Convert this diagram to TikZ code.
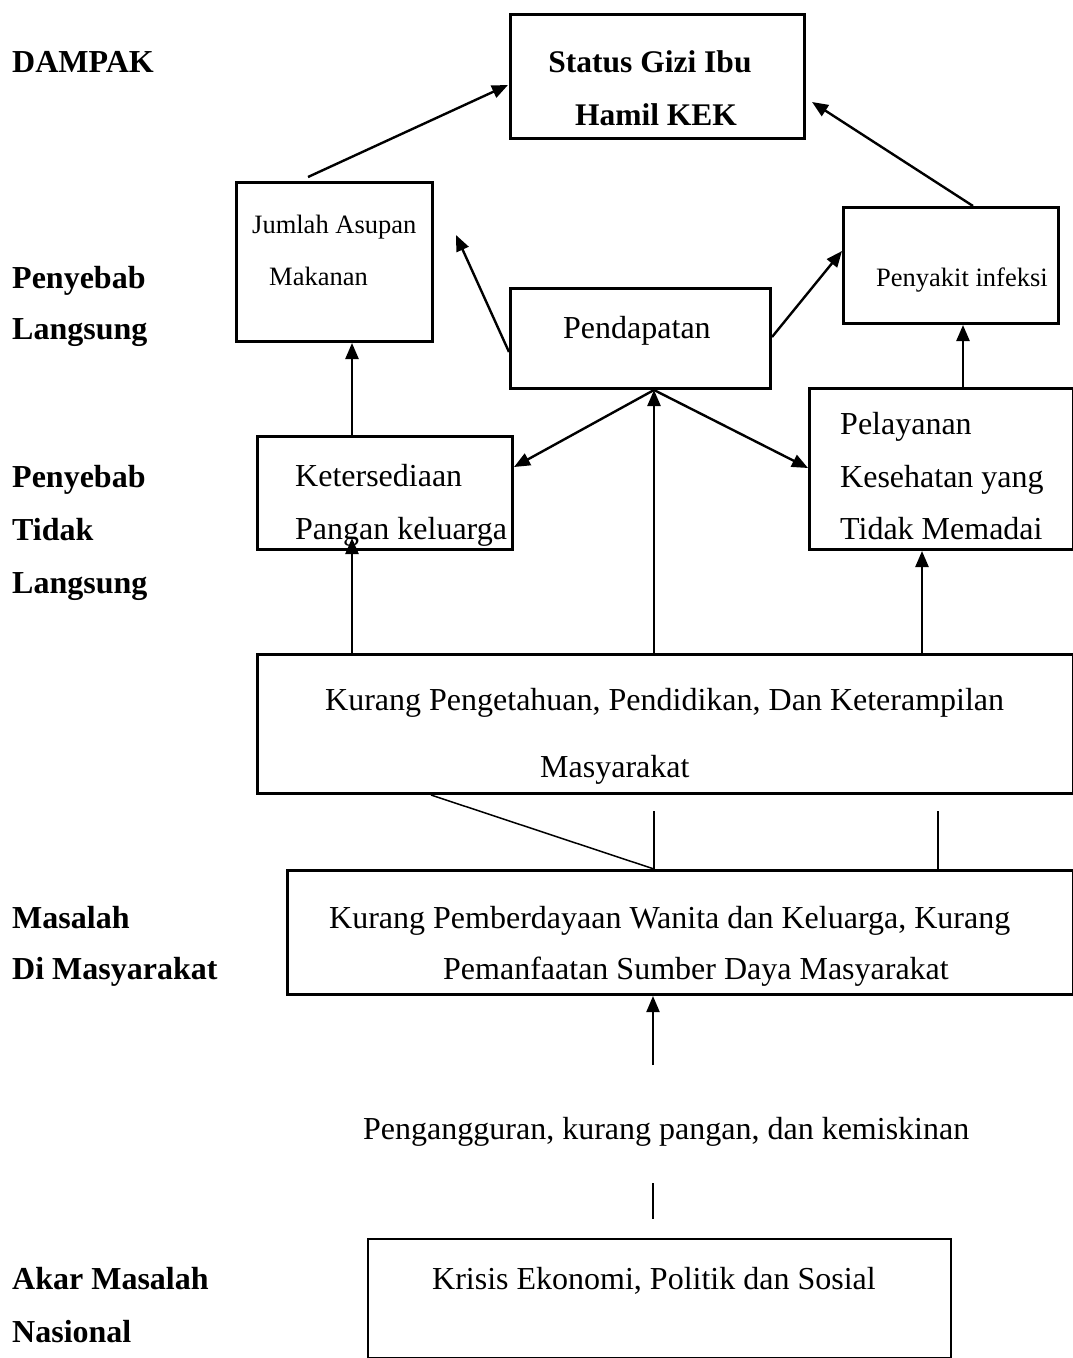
\documentclass[tikz,border=0pt]{standalone}
\usepackage{fontspec}
\setmainfont{Liberation Serif}
\usetikzlibrary{arrows.meta,calc}
\begin{document}
\begin{tikzpicture}[x=1pt,y=-1pt,
 box/.style={draw, line width=3pt, inner sep=0pt, anchor=north west},
 conn/.style={line width=2.4pt, -{Triangle[length=16pt,width=13pt]}},
 thinline/.style={line width=1.5pt},
 txt/.style={anchor=base west, inner sep=0pt, font=\fontsize{32}{38}\selectfont},
 stxt/.style={anchor=base west, inner sep=0pt, font=\fontsize{26.5}{32}\selectfont},
 lbl/.style={anchor=base west, inner sep=0pt, font=\fontsize{32}{38}\selectfont\bfseries},
 btxt/.style={anchor=base, inner sep=0pt, font=\fontsize{31.5}{38}\selectfont\bfseries},
]
\useasboundingbox (0,0) rectangle (1073,1358);
\clip (0,0) rectangle (1073,1358);

% boxes
\node[box, minimum width=294pt, minimum height=124pt] (status) at (509,13) {};
\node[box, minimum width=196pt, minimum height=159pt] (jumlah) at (235,181) {};
\node[box, minimum width=260pt, minimum height=100pt] (pend) at (509,287) {};
\node[box, minimum width=215pt, minimum height=116pt] (penyakit) at (842,206) {};
\node[box, minimum width=255pt, minimum height=113pt] (keter) at (256,435) {};
\node[box, minimum width=264pt, minimum height=161pt] (pelay) at (808,387) {};
\node[box, minimum width=816pt, minimum height=139pt] (kp) at (256,653) {};
\node[box, minimum width=786pt, minimum height=124pt] (pem) at (286,869) {};
\node[box, line width=2.2pt, minimum width=583pt, minimum height=119pt] (krisis) at (367,1238) {};

% texts in boxes
\node[btxt] (t1) at (650,72) {Status Gizi Ibu};
\node[btxt] (t2) at (656,125) {Hamil KEK};
\node[stxt] (t3) at (252,233) {Jumlah Asupan};
\node[stxt] (t4) at (269,285) {Makanan};
\node[txt] (t5) at (563,338) {Pendapatan};
\node[stxt] (t6) at (876,286) {Penyakit infeksi};
\node[txt] (t7) at (295,486) {Ketersediaan};
\node[txt] (t8) at (295,539) {Pangan keluarga};
\node[txt] (t9) at (840,434) {Pelayanan};
\node[txt] (t10) at (840,487) {Kesehatan yang};
\node[txt] (t11) at (840,539) {Tidak Memadai};
\node[txt] (t12) at (325,710) {Kurang Pengetahuan, Pendidikan, Dan Keterampilan};
\node[txt] (t13) at (540,777) {Masyarakat};
\node[txt] (t14) at (329,928) {Kurang Pemberdayaan Wanita dan Keluarga, Kurang};
\node[txt] (t15) at (443,979) {Pemanfaatan Sumber Daya Masyarakat};
\node[txt] (pg) at (363,1139) {Pengangguran, kurang pangan, dan kemiskinan};
\node[txt] (t16) at (432,1289) {Krisis Ekonomi, Politik dan Sosial};

% left labels
\node[lbl] (l1) at (12,72) {DAMPAK};
\node[lbl] (l2) at (12,288) {Penyebab};
\node[lbl] (l3) at (12,339) {Langsung};
\node[lbl] (l4) at (12,487) {Penyebab};
\node[lbl] (l5) at (12,540) {Tidak};
\node[lbl] (l6) at (12,593) {Langsung};
\node[lbl] (l7) at (12,928) {Masalah};
\node[lbl] (l8) at (12,979) {Di Masyarakat};
\node[lbl] (l9) at (12,1289) {Akar Masalah};
\node[lbl] (l10) at (12,1342) {Nasional};

% free coordinates
\coordinate (pL) at (456,235);
\coordinate (pb) at ([xshift=145pt]pend.south west);
\coordinate (v1) at (654,811);
\coordinate (v2) at (938,811);
\coordinate (upc) at (653,1065);
\coordinate (lc1) at (653,1183);
\coordinate (lc2) at (653,1219);

% connectors
\draw[conn] ([xshift=73pt,yshift=4pt]jumlah.north west) -- ([yshift=-72pt,xshift=-1pt]status.north west);
\draw[conn] ([xshift=131pt]penyakit.north west) -- ([yshift=-89pt,xshift=6pt]status.north east);
\draw[conn] ([yshift=-65pt]pend.north west) -- (pL);
\draw[conn] ([yshift=-50pt]pend.north east) -- ([yshift=-45pt]penyakit.north west);
\draw[conn] (pb) -- ([yshift=-32pt]keter.north east);
\draw[conn] (pb) -- ([yshift=-81pt]pelay.north west);
\draw[conn] ([xshift=398pt]kp.north west) -- (pb);
\draw[conn] ([xshift=96pt]keter.north west) -- ([xshift=117pt]jumlah.south west);
\draw[conn] ([xshift=96pt]kp.north west) -- ([xshift=96pt,yshift=13pt]keter.south west);
\draw[conn] ([xshift=155pt]pelay.north west) -- ([xshift=121pt]penyakit.south west);
\draw[conn] ([xshift=666pt]kp.north west) -- ([xshift=114pt]pelay.south west);

\draw[thinline] ([xshift=175pt]kp.south west) -- ([xshift=368pt]pem.north west);
\draw[thinline] (v1) -- ([xshift=368pt]pem.north west);
\draw[thinline] (v2) -- ([xshift=652pt]pem.north west);
\draw[conn, line width=2pt] (upc) -- ([xshift=367pt]pem.south west);
\draw[thinline] (lc1) -- (lc2);
\end{tikzpicture}
\end{document}
